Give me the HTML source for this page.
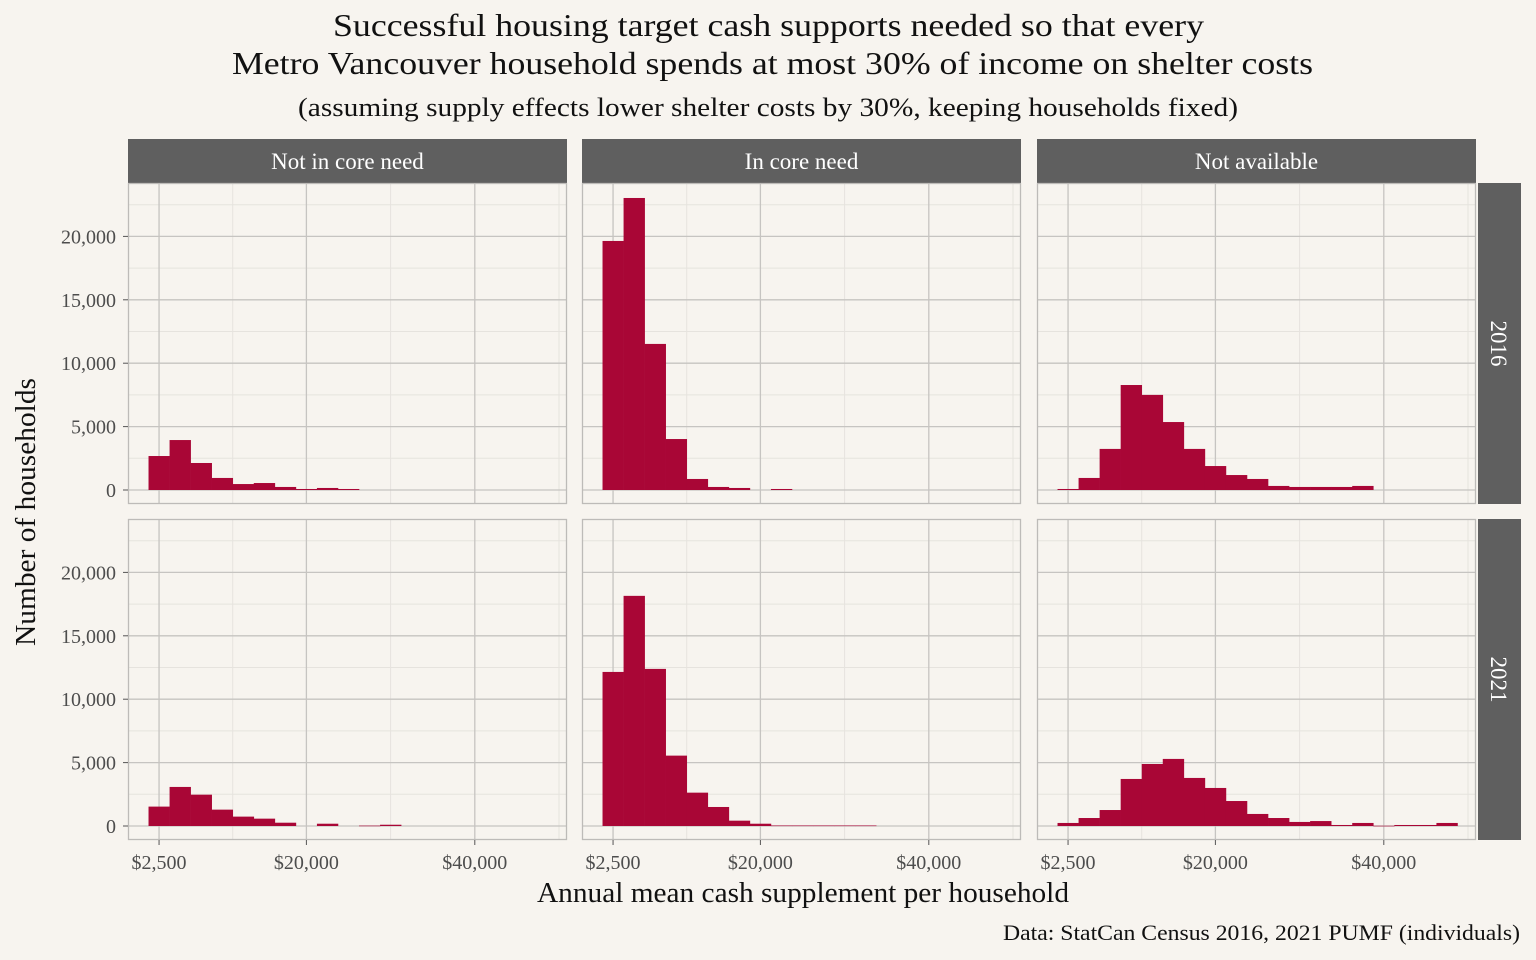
<!DOCTYPE html>
<html><head><meta charset="utf-8"><style>
html,body{margin:0;padding:0;background:#f7f4ef;}
svg{display:block;font-family:"Liberation Serif",serif;}
</style></head><body>
<svg id="chart" width="1536" height="960" viewBox="0 0 1536 960">
<rect width="1536" height="960" fill="#f7f4ef"/>
<text x="333" y="36" font-size="32" textLength="871" lengthAdjust="spacingAndGlyphs" fill="#111">Successful housing target cash supports needed so that every</text>
<text x="232" y="74" font-size="32" textLength="1081" lengthAdjust="spacingAndGlyphs" fill="#111">Metro Vancouver household spends at most 30% of income on shelter costs</text>
<text x="298" y="116" font-size="26" textLength="940" lengthAdjust="spacingAndGlyphs" fill="#111">(assuming supply effects lower shelter costs by 30%, keeping households fixed)</text>
<g id="panels"></g>
<text x="537" y="902" font-size="28" textLength="532" lengthAdjust="spacingAndGlyphs" fill="#111">Annual mean cash supplement per household</text>
<text transform="translate(35,646) rotate(-90)" font-size="28" textLength="268" lengthAdjust="spacingAndGlyphs" fill="#111">Number of households</text>
<text x="1003" y="940" font-size="22" textLength="517" lengthAdjust="spacingAndGlyphs" fill="#111">Data: StatCan Census 2016, 2021 PUMF (individuals)</text>
</svg>
<script>
const columns = ["Not in core need","In core need","Not available"];
const years = ["2016","2021"];
const binWidth = 2500;
const firstBinCenter = 2500;
const notCore2016 = [2680,3940,2130,950,470,550,240,80,160,80];
const core2016 = [19640,23030,11520,4020,870,240,160,0,80];
const na2016 = [80,950,3240,8280,7500,5360,3240,1890,1180,870,320,240,240,240,320];
const notCore2021 = [1530,3080,2470,1290,740,580,260,0,180,0,30,100];
const core2021 = [12150,18150,12390,5550,2630,1500,420,180,40,40,40,40,40];
const na2021 = [240,630,1260,3710,4890,5290,3790,3000,1970,950,630,320,390,80,240,20,80,80,240];
const xTicks = [2500,20000,40000];
const xTickLabels = ["$2,500","$20,000","$40,000"];
const xMinor = [11250,30000,50000];
const yTicks = [0,5000,10000,15000,20000];
const yTickLabels = ["0","5,000","10,000","15,000","20,000"];
const yMinor = [2500,7500,12500,17500,22500];

const series = [[notCore2016,core2016,na2016],[notCore2021,core2021,na2021]];
const NS="http://www.w3.org/2000/svg";
const g=document.getElementById('panels');
const panelLefts=[128,582,1037], panelW=439;
const rowTops=[183,519], panelH=321;
function mk(tag,attrs,parent){const e=document.createElementNS(NS,tag);for(const k in attrs)e.setAttribute(k,attrs[k]);(parent||g).appendChild(e);return e;}
function xScale(col,v){return panelLefts[col]+10+v*0.00842;}
function yScale(row,v){return rowTops[row]+307-v*0.01268;}

columns.forEach((c,ci)=>{
  const s=mk('rect',{x:panelLefts[ci],y:139,width:panelW,height:44,fill:'#5f5f5f'});
  
  
  const t=mk('text',{x:panelLefts[ci]+panelW/2,y:169,'font-size':23,'text-anchor':'middle',fill:'#fff'});
  t.textContent=c;
  
  
});
years.forEach((yr,ri)=>{
  const s=mk('rect',{x:1478,y:rowTops[ri],width:43,height:panelH,fill:'#5f5f5f'});
  
  
  const cy=rowTops[ri]+panelH/2;
  const t=mk('text',{transform:`translate(1491,${cy}) rotate(90)`,'font-size':23,'text-anchor':'middle',fill:'#fff'});
  t.textContent=yr;
  
  
});

for(let ri=0;ri<2;ri++){
  for(let ci=0;ci<3;ci++){
    const L=panelLefts[ci],T=rowTops[ri];
    const bg=mk('rect',{x:L,y:T,width:panelW,height:panelH,fill:'#f7f4ef'});
    
    
    yMinor.forEach(v=>{const l=mk('line',{x1:L,x2:L+panelW,y1:yScale(ri,v),y2:yScale(ri,v),stroke:'#e6e3de','stroke-width':1});
      
      });
    xMinor.forEach(v=>{const l=mk('line',{x1:xScale(ci,v),x2:xScale(ci,v),y1:T,y2:T+panelH,stroke:'#e6e3de','stroke-width':1});
      
      });
    yTicks.forEach(v=>{const l=mk('line',{x1:L,x2:L+panelW,y1:yScale(ri,v),y2:yScale(ri,v),stroke:'#c6c4c1','stroke-width':1.3});
      
      });
    xTicks.forEach(v=>{const l=mk('line',{x1:xScale(ci,v),x2:xScale(ci,v),y1:T,y2:T+panelH,stroke:'#c6c4c1','stroke-width':1.3});
      
      });
    series[ri][ci].forEach((val,i)=>{
      if(val<=0)return;
      const center=firstBinCenter+i*binWidth;
      const x0=xScale(ci,center-binWidth/2),x1=xScale(ci,center+binWidth/2);
      const y0=yScale(ri,val),yb=yScale(ri,0);
      const b=mk('rect',{x:x0,y:y0,width:x1-x0+0.3,height:Math.max(yb-y0,0.6),fill:'#a90636'});
      
      
    });
    const br=mk('rect',{x:L+0.5,y:T+0.5,width:panelW-1,height:panelH-1,fill:'none',stroke:'#bdbbb8','stroke-width':1.3});
    
    
    if(ci===0){
      yTicks.forEach((v,i)=>{
        const y=yScale(ri,v);
        mk('line',{x1:L-5,x2:L,y1:y,y2:y,stroke:'#555','stroke-width':1});
        const t=mk('text',{x:L-12,y:y+7,'font-size':20,'text-anchor':'end',fill:'#4d4d4d'});
        t.textContent=yTickLabels[i];
        
        
      });
    }
    if(ri===1){
      xTicks.forEach((v,i)=>{
        const x=xScale(ci,v);
        mk('line',{x1:x,x2:x,y1:T+panelH,y2:T+panelH+5,stroke:'#555','stroke-width':1});
        const t=mk('text',{x:x,y:869,'font-size':20,'text-anchor':'middle',fill:'#4d4d4d'});
        t.textContent=xTickLabels[i];
        
        
      });
    }
  }
}
</script>
</body></html>
